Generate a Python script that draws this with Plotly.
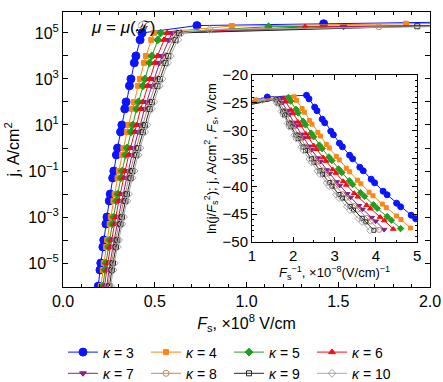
import numpy as np
import plotly.graph_objects as go

# log10 of current density levels on the steep branch (A/cm^2)
LOGJ_STEEP = [5, 4.7, 4, 3.7, 3, 2.7, 2, 1.7, 1, 0.7, 0, -0.3, -1, -1.3,
              -2, -2.3, -3, -3.3, -4, -4.3, -5, -5.3, -6]

# inverse field (x 1e-8 (V/cm)^-1) at each level, per kappa
INV_K3 = [2.32, 2.38, 2.518, 2.574, 2.70, 2.761, 2.908, 2.971, 3.117, 3.189, 3.363, 3.437,
          3.611, 3.694, 3.887, 3.970, 4.175, 4.273, 4.502, 4.60, 4.855, 4.964, 5.2]
INV_K4 = [2.019, 2.078, 2.213, 2.268, 2.391, 2.451, 2.595, 2.657, 2.800, 2.870, 3.040, 3.113,
          3.283, 3.364, 3.553, 3.635, 3.835, 3.931, 4.155, 4.251, 4.501, 4.608, 4.839]
INV_K5 = [1.879, 1.936, 2.066, 2.119, 2.238, 2.295, 2.434, 2.494, 2.631, 2.699, 2.864, 2.934,
          3.098, 3.176, 3.358, 3.437, 3.630, 3.723, 3.939, 4.031, 4.272, 4.375, 4.598]
INV_K6 = [1.761, 1.816, 1.944, 1.995, 2.112, 2.168, 2.304, 2.362, 2.497, 2.564, 2.724, 2.793,
          2.954, 3.030, 3.209, 3.285, 3.475, 3.565, 3.777, 3.867, 4.103, 4.204, 4.422]
INV_K7 = [1.680, 1.733, 1.853, 1.902, 2.013, 2.066, 2.195, 2.250, 2.377, 2.440, 2.593, 2.657,
          2.810, 2.882, 3.051, 3.124, 3.303, 3.389, 3.589, 3.675, 3.898, 3.994, 4.200]
INV_K8 = [1.619, 1.671, 1.788, 1.836, 1.944, 1.996, 2.121, 2.175, 2.300, 2.361, 2.510, 2.573,
          2.722, 2.793, 2.958, 3.028, 3.204, 3.287, 3.483, 3.566, 3.784, 3.877, 4.079]
INV_K9 = [1.580, 1.630, 1.743, 1.789, 1.893, 1.943, 2.064, 2.116, 2.236, 2.296, 2.439, 2.500,
          2.643, 2.711, 2.870, 2.938, 3.107, 3.188, 3.376, 3.457, 3.667, 3.756, 3.951]
INV_K10 = [1.551, 1.599, 1.709, 1.754, 1.854, 1.903, 2.021, 2.071, 2.188, 2.245, 2.384, 2.443,
           2.582, 2.649, 2.803, 2.869, 3.033, 3.111, 3.294, 3.372, 3.576, 3.663, 3.852]

# saturation branch (high field): inverse field and log10 j
TOP_INV = {3: [0.48, 0.704, 1.37], 4: [0.48, 0.535, 1.087], 5: [0.48, 0.893],
           6: [0.48, 0.758], 7: [0.48, 0.654], 8: [0.48, 0.581],
           9: [0.48, 0.518], 10: [0.48, 1.25]}
TOP_LOGJ = {3: [5.47, 5.40, 5.32], 4: [5.42, 5.40, 5.30], 5: [5.33, 5.27],
            6: [5.31, 5.26], 7: [5.31, 5.27], 8: [5.30, 5.27],
            9: [5.30, 5.29], 10: [5.28, 5.15]}

KAPPAS = [3, 4, 5, 6, 7, 8, 9, 10]
STEEP = {3: INV_K3, 4: INV_K4, 5: INV_K5, 6: INV_K6, 7: INV_K7, 8: INV_K8, 9: INV_K9, 10: INV_K10}

STYLE = {
    3: dict(color="#0a14ff", symbol="circle", size=8, size2=6),
    4: dict(color="#ff8514", symbol="square", size=5, size2=4),
    5: dict(color="#1f9e1f", symbol="diamond", size=6, size2=5),
    6: dict(color="#ff0a0a", symbol="triangle-up", size=6, size2=5),
    7: dict(color="#8a1f8a", symbol="triangle-down", size=6, size2=5),
    8: dict(color="#b98c62", symbol="circle-open", size=6, size2=5),
    9: dict(color="#262626", symbol="square-open", size=5, size2=4),
    10: dict(color="#a6a6a6", symbol="diamond-open", size=6, size2=5),
}

FONT = "Liberation Sans, Arial, sans-serif"
fig = go.Figure()

for k in KAPPAS:
    inv = np.array(TOP_INV[k] + STEEP[k])
    lj = np.array(TOP_LOGJ[k] + LOGJ_STEEP)
    F = 1.0 / inv
    j = 10.0 ** lj
    ln_jF2 = lj * np.log(10) - 2 * np.log(F * 1e8)
    st = STYLE[k]
    fig.add_trace(go.Scatter(
        x=F, y=j, mode="lines+markers", name=f"<i>κ</i> = {k}",
        line=dict(color=st["color"], width=1),
        marker=dict(symbol=st["symbol"], size=st["size"], color=st["color"],
                    line=dict(color=st["color"], width=1)),
        xaxis="x", yaxis="y", legendgroup=str(k)))
    fig.add_trace(go.Scatter(
        x=inv, y=ln_jF2, mode="lines+markers", showlegend=False,
        line=dict(color=st["color"], width=1),
        marker=dict(symbol=st["symbol"], size=st["size2"], color=st["color"],
                    line=dict(color=st["color"], width=1)),
        xaxis="x2", yaxis="y2", legendgroup=str(k)))

ytv = [10.0 ** e for e in range(-6, 6)]
ytt = [("10<sup>" + (str(e) if e >= 0 else "−" + str(-e)) + "</sup>") if e % 2 else "" for e in range(-6, 6)]

axis_common = dict(showline=True, linecolor="black", linewidth=1, mirror="allticks",
                   ticks="inside", ticklen=5, tickcolor="black", showgrid=False, zeroline=False)

fig.update_layout(
    width=443, height=382,
    margin=dict(l=63, r=13, t=12, b=95, autoexpand=False),
    paper_bgcolor="white", plot_bgcolor="white",
    font=dict(family=FONT, color="black"),
    xaxis=dict(domain=[0, 1], range=[0, 2], tickvals=[0, 0.5, 1, 1.5, 2],
               ticktext=["0.0", "0.5", "1.0", "1.5", "2.0"],
               minor=dict(ticks="inside", dtick=0.1, ticklen=3, tickcolor="black"),
               tickfont=dict(size=16),
               title=dict(text="<i>F</i><sub>s</sub>, ×10<sup>8</sup> V/cm", font=dict(size=16), standoff=8),
               anchor="y", **axis_common),
    yaxis=dict(domain=[0, 1], type="log", range=[-6.04, 5.91], tickvals=ytv, ticktext=ytt,
               tickfont=dict(size=16),
               title=dict(text="j, A/cm<sup>2</sup>", font=dict(size=16), standoff=4),
               anchor="x", **axis_common),
    xaxis2=dict(domain=[0.515, 0.965], range=[1, 5], tickvals=[1, 2, 3, 4, 5],
                minor=dict(ticks="inside", dtick=0.5, ticklen=2, tickcolor="black"),
                tickfont=dict(size=15),
                title=dict(text="<i>F</i><sub>s</sub><sup>−1</sup>, ×10<sup>−8</sup>(V/cm)<sup>−1</sup>",
                           font=dict(size=13), standoff=4),
                anchor="y2", **axis_common),
    yaxis2=dict(domain=[0.164, 0.771], range=[-50, -20], tickvals=[-50, -45, -40, -35, -30, -25, -20],
                minor=dict(ticks="inside", dtick=1, ticklen=2, tickcolor="black"),
                tickfont=dict(size=15),
                title=dict(text="ln(j/<i>F</i><sub>s</sub><sup>2</sup>); j, A/cm<sup>2</sup>, <i>F</i><sub>s</sub>, V/cm",
                           font=dict(size=13), standoff=3),
                anchor="x2", **axis_common),
    legend=dict(orientation="h", x=0.0, xanchor="left", y=-0.18, yanchor="top",
                entrywidth=38, font=dict(size=14), itemwidth=30, tracegroupgap=0,
                bgcolor="rgba(0,0,0,0)"),
    annotations=[dict(text="<i>μ</i> = <i>μ</i>(ℱ)", xref="paper", yref="paper",
                      x=0.07, y=0.985, xanchor="left", yanchor="top", showarrow=False,
                      font=dict(size=17))],
)

fig.write_html("out.html", config={"displayModeBar": False},
               post_script="document.body.style.margin='0';")
